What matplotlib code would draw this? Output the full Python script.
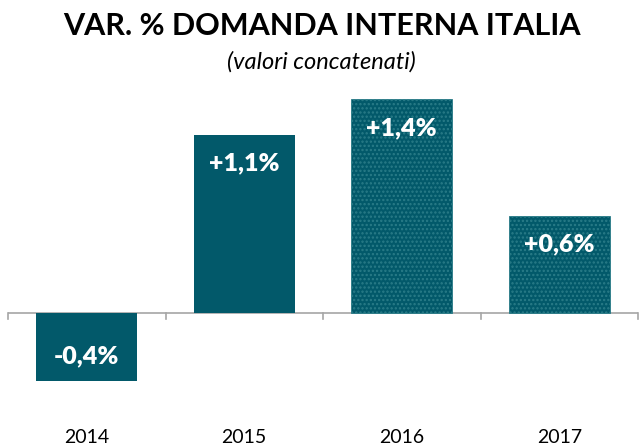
import numpy as np
import matplotlib as mpl
mpl.use('Agg')
import matplotlib.pyplot as plt

# data
years = ['2014', '2015', '2016', '2017']
values = [-0.42, 1.10, 1.32, 0.60]
labels = ['-0,4%', '+1,1%', '+1,4%', '+0,6%']
dotted = [False, False, True, True]

teal = '#02596A'
grey = '#A6A6A6'

plt.rcParams['font.family'] = ['Lato', 'DejaVu Sans']
plt.rcParams['hatch.color'] = '#D5E8EB'
plt.rcParams['hatch.linewidth'] = 1.1

fig = plt.figure(figsize=(6.43, 4.45), dpi=100)
# axes: left 8px, right 638px, top 94px, bottom 390px
ax = fig.add_axes([8/643, 1 - 390/445, 630/643, (390 - 94)/445])

x = np.arange(len(years))
for xi, v, d in zip(x, values, dotted):
    ax.bar(xi, v, width=0.64, color=teal, edgecolor='#2A7C88' if d else teal,
           linewidth=0.6 if d else 0, hatch='....' if d else None, zorder=2)

for xi, v, lab in zip(x, values, labels):
    off = -29 if v > 0 else 25
    ax.annotate(lab, xy=(xi, v), xytext=(0, off * 0.72), textcoords='offset points',
                ha='center', va='center', color='white', fontsize=18, fontweight='heavy', zorder=3)

ax.set_xlim(-0.5, 3.5)
ax.set_ylim(-0.475, 1.35)

# zero line with category boundary ticks
ax.axhline(0, color=grey, lw=1.2, zorder=1)
for b in np.arange(-0.5, 4, 1.0):
    ax.plot([b, b], [0, -0.035], color=grey, lw=1.2, zorder=1, clip_on=False)

for s in ax.spines.values():
    s.set_visible(False)
ax.set_yticks([])
ax.set_xticks(x)
ax.set_xticklabels(years, fontsize=14)
ax.tick_params(axis='x', length=0, pad=28)

fig.text(0.5, 1 - 26/445, 'VAR. % DOMANDA INTERNA ITALIA', ha='center', va='center',
         fontsize=22, fontweight='bold', color='black')
fig.text(0.5, 1 - 62/445, '(valori concatenati)', ha='center', va='center',
         fontsize=17, fontstyle='italic', color='black')

fig.savefig('out.png', dpi=100)
